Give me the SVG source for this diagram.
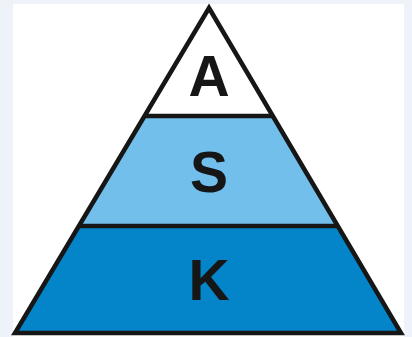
<svg xmlns="http://www.w3.org/2000/svg" width="412" height="337" viewBox="0 0 412 337">
<style>
.edge{fill:none;stroke:#161616;stroke-width:4.5;stroke-linejoin:miter}
.lbl{font-family:"Liberation Sans",Arial,sans-serif;font-weight:bold;font-size:57px;fill:#161616;text-anchor:middle}
</style>
<rect width="412" height="337" fill="#edf3f9"/>
<rect x="13" y="4" width="391" height="333" fill="#ffffff"/>
<g id="tier-A">
<polygon points="209,8 144.5,116 273.5,116" fill="#ffffff"/>
<text class="lbl" x="209" y="96">A</text>
</g>
<g id="tier-S">
<polygon points="144.5,116 273.5,116 339,226 79,226" fill="#72bfec"/>
<text class="lbl" x="209" y="192">S</text>
</g>
<g id="tier-K">
<polygon points="79,226 339,226 401,333 15,333" fill="#0585c9"/>
<text class="lbl" x="209" y="300">K</text>
</g>
<g id="connectors">
<polygon class="edge" points="209,8 401,333 15,333"/>
<line class="edge" x1="144.5" y1="116" x2="273.5" y2="116"/>
<line class="edge" x1="79" y1="226" x2="339" y2="226"/>
</g>
</svg>
